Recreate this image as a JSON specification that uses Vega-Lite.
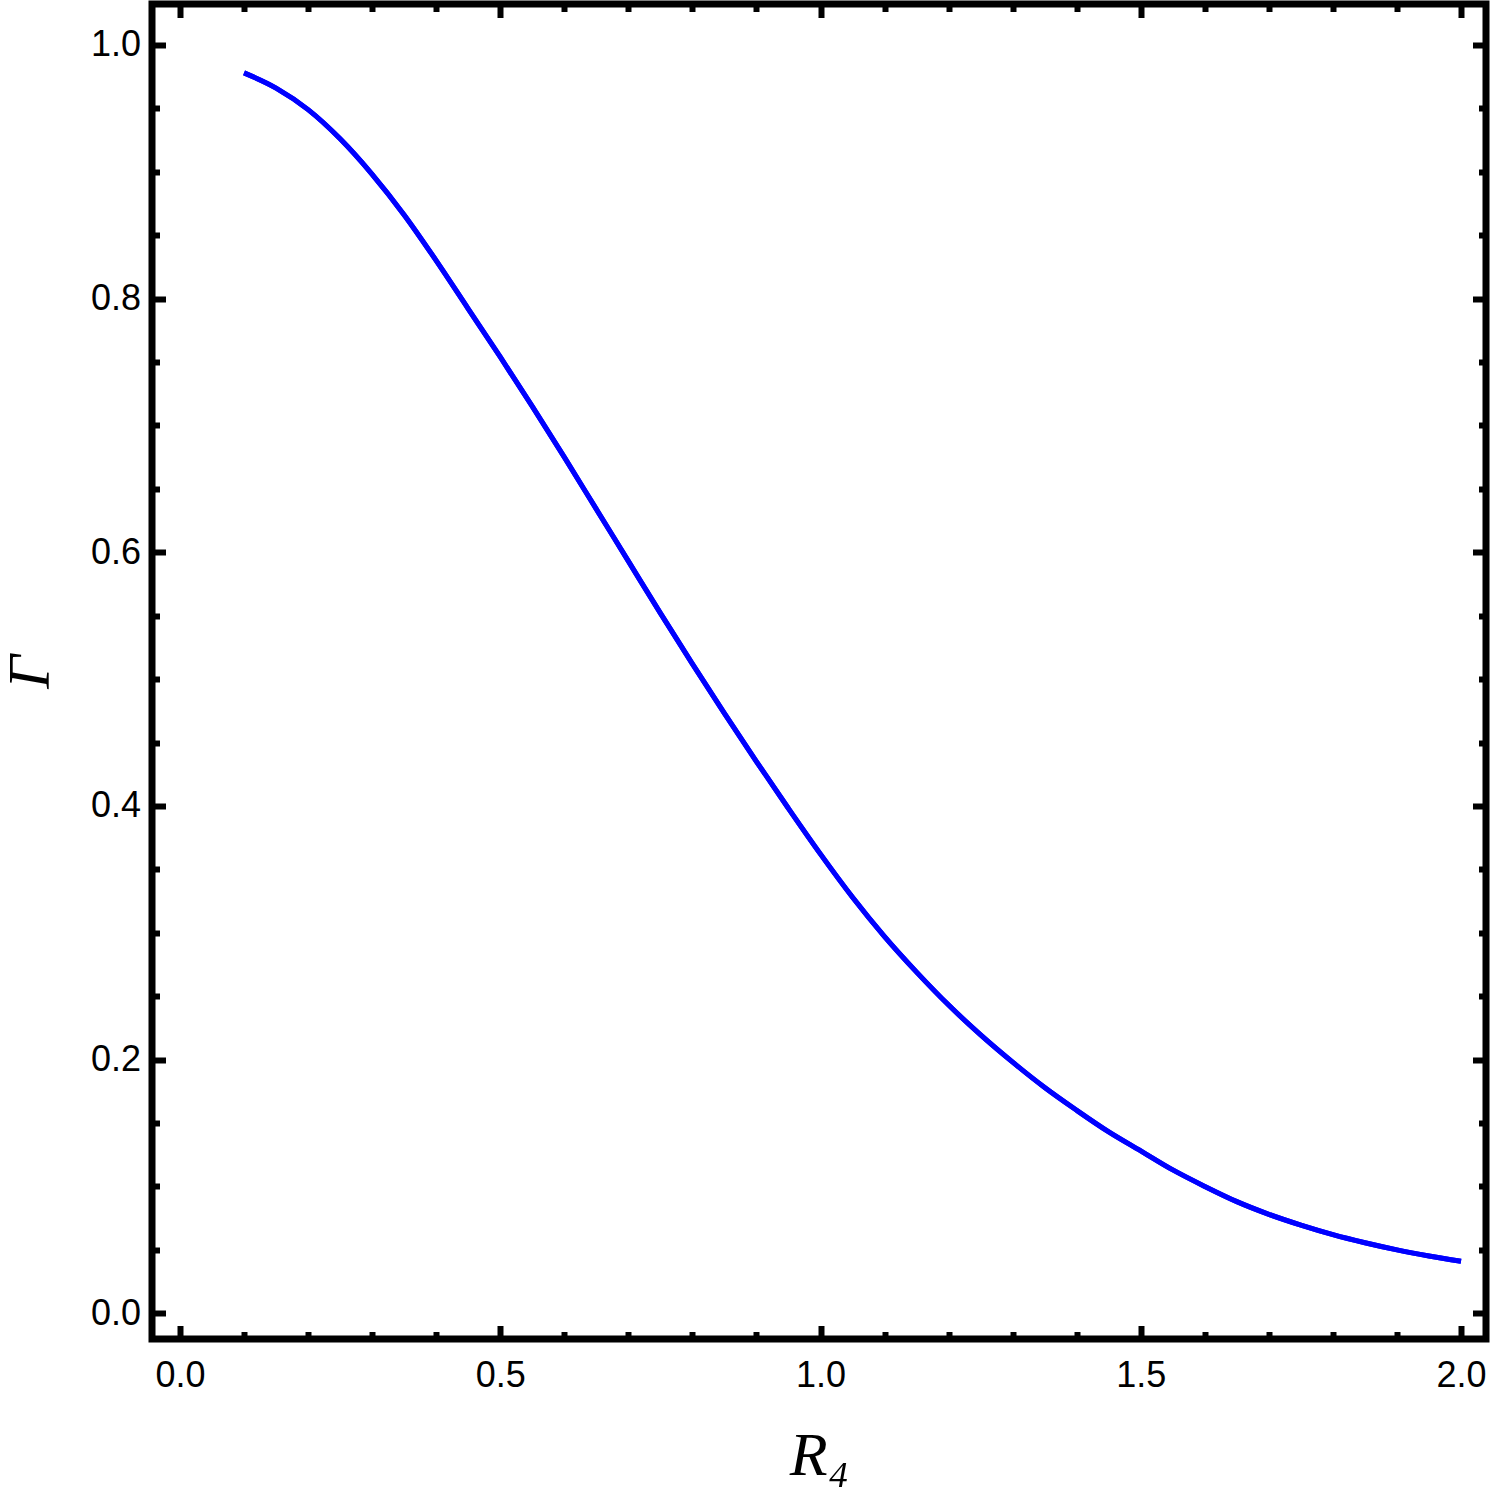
{
  "$schema": "https://vega.github.io/schema/vega-lite/v6.json",
  "autosize": {"type": "none"},
  "padding": {"left": 152, "top": 4, "right": 9, "bottom": 156},
  "width": 1334,
  "height": 1335,
  "background": "white",
  "config": {
    "view": {"stroke": "black", "strokeWidth": 7},
    "axis": {
      "grid": false,
      "domain": false,
      "tickColor": "black",
      "tickWidth": 6,
      "labelFont": "Liberation Sans",
      "labelFontSize": 36,
      "labelColor": "black",
      "titleFont": "Liberation Serif",
      "titleFontStyle": "italic",
      "titleFontWeight": "normal",
      "titleFontSize": 62,
      "titleColor": "black"
    }
  },
  "data": {
    "values": [
      {"R": 0.10, "G": 0.978},
      {"R": 0.15, "G": 0.966},
      {"R": 0.20, "G": 0.949},
      {"R": 0.25, "G": 0.926},
      {"R": 0.30, "G": 0.898},
      {"R": 0.35, "G": 0.866},
      {"R": 0.40, "G": 0.830},
      {"R": 0.45, "G": 0.792},
      {"R": 0.50, "G": 0.754},
      {"R": 0.55, "G": 0.715},
      {"R": 0.60, "G": 0.675},
      {"R": 0.65, "G": 0.634},
      {"R": 0.70, "G": 0.593},
      {"R": 0.75, "G": 0.552},
      {"R": 0.80, "G": 0.512},
      {"R": 0.85, "G": 0.473},
      {"R": 0.90, "G": 0.435},
      {"R": 0.95, "G": 0.398},
      {"R": 1.00, "G": 0.362},
      {"R": 1.05, "G": 0.328},
      {"R": 1.10, "G": 0.297},
      {"R": 1.15, "G": 0.269},
      {"R": 1.20, "G": 0.243},
      {"R": 1.25, "G": 0.2195},
      {"R": 1.30, "G": 0.198},
      {"R": 1.35, "G": 0.178},
      {"R": 1.40, "G": 0.160},
      {"R": 1.45, "G": 0.143},
      {"R": 1.50, "G": 0.128},
      {"R": 1.55, "G": 0.113},
      {"R": 1.60, "G": 0.100},
      {"R": 1.65, "G": 0.088},
      {"R": 1.70, "G": 0.078},
      {"R": 1.75, "G": 0.0695},
      {"R": 1.80, "G": 0.062},
      {"R": 1.85, "G": 0.0556},
      {"R": 1.90, "G": 0.050},
      {"R": 1.95, "G": 0.0452},
      {"R": 2.00, "G": 0.041}
    ]
  },
  "layer": [
    {
      "mark": {"type": "line", "color": "#0000ff", "strokeWidth": 5, "interpolate": "monotone", "clip": true},
      "encoding": {
        "x": {
          "field": "R", "type": "quantitative",
          "scale": {"domain": [-0.0437, 2.039], "nice": false, "zero": false},
          "axis": {
            "orient": "bottom",
            "title": "R₄",
            "titlePadding": 26,
            "values": [0, 0.1, 0.2, 0.3, 0.4, 0.5, 0.6, 0.7, 0.8, 0.9, 1.0, 1.1, 1.2, 1.3, 1.4, 1.5, 1.6, 1.7, 1.8, 1.9, 2.0],
            "tickSize": {"condition": {"test": "abs(datum.value*2 - round(datum.value*2)) < 0.001", "value": -13.5}, "value": -7.5},
            "labelExpr": "abs(datum.value*2 - round(datum.value*2)) < 0.001 ? format(datum.value, '.1f') : ''",
            "labelPadding": 33,
            "labelFlush": false,
            "labelOverlap": false
          }
        },
        "y": {
          "field": "G", "type": "quantitative",
          "scale": {"domain": [-0.0203, 1.0323], "nice": false, "zero": false},
          "axis": {
            "orient": "left",
            "title": "Γ",
            "titleFontSize": 59,
            "titlePadding": 30,
            "values": [0, 0.05, 0.1, 0.15, 0.2, 0.25, 0.3, 0.35, 0.4, 0.45, 0.5, 0.55, 0.6, 0.65, 0.7, 0.75, 0.8, 0.85, 0.9, 0.95, 1.0],
            "tickSize": {"condition": {"test": "abs(datum.value*5 - round(datum.value*5)) < 0.001", "value": -13.5}, "value": -7.5},
            "labelExpr": "abs(datum.value*5 - round(datum.value*5)) < 0.001 ? format(datum.value, '.1f') : ''",
            "labelPadding": 25,
            "labelFlush": false,
            "labelOverlap": false
          }
        }
      }
    },
    {
      "mark": {"type": "line", "color": "#0000ff", "strokeWidth": 5, "interpolate": "monotone", "clip": true},
      "encoding": {
        "x": {
          "field": "R", "type": "quantitative",
          "axis": {
            "orient": "top",
            "title": null,
            "labels": false,
            "values": [0, 0.1, 0.2, 0.3, 0.4, 0.5, 0.6, 0.7, 0.8, 0.9, 1.0, 1.1, 1.2, 1.3, 1.4, 1.5, 1.6, 1.7, 1.8, 1.9, 2.0],
            "tickSize": {"condition": {"test": "abs(datum.value*2 - round(datum.value*2)) < 0.001", "value": -13.5}, "value": -7.5}
          }
        },
        "y": {
          "field": "G", "type": "quantitative",
          "axis": {
            "orient": "right",
            "title": null,
            "labels": false,
            "values": [0, 0.05, 0.1, 0.15, 0.2, 0.25, 0.3, 0.35, 0.4, 0.45, 0.5, 0.55, 0.6, 0.65, 0.7, 0.75, 0.8, 0.85, 0.9, 0.95, 1.0],
            "tickSize": {"condition": {"test": "abs(datum.value*5 - round(datum.value*5)) < 0.001", "value": -13.5}, "value": -7.5}
          }
        }
      }
    }
  ],
  "resolve": {"axis": {"x": "independent", "y": "independent"}}
}
